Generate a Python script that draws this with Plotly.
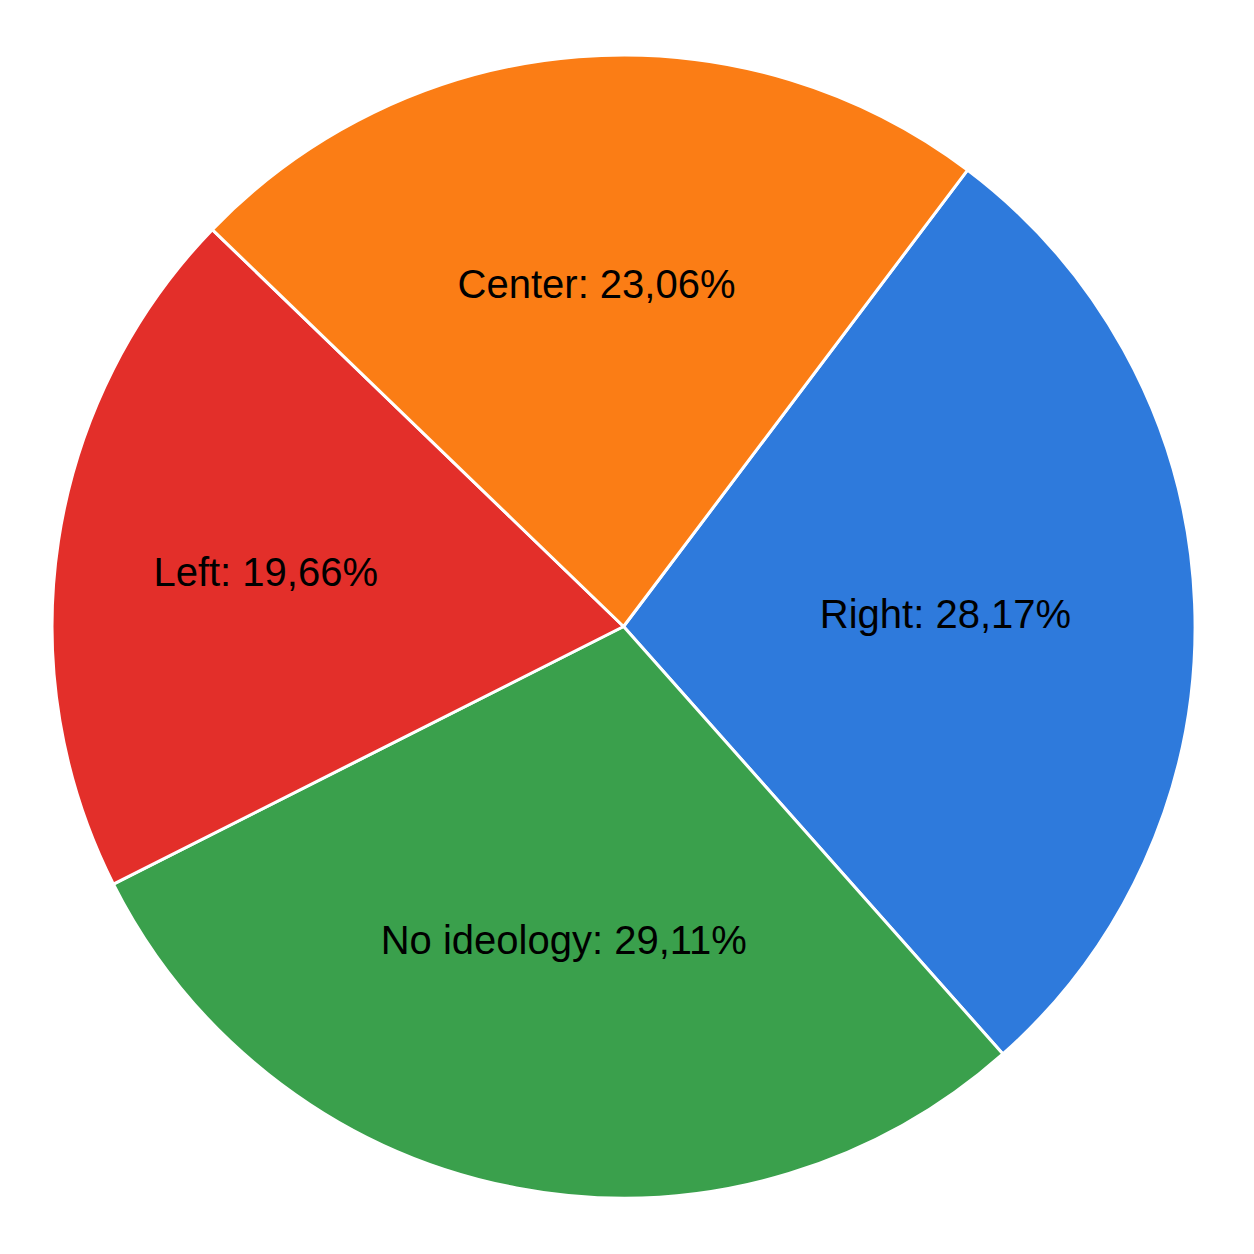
import plotly.graph_objects as go

labels = ["Right", "No ideology", "Left", "Center"]
values = [28.17, 29.11, 19.66, 23.06]
colors = ["#2E7ADC", "#3AA04C", "#E32F2A", "#FB7D15"]

fig = go.Figure(go.Pie(
    labels=labels,
    values=values,
    sort=False,
    direction="clockwise",
    rotation=37,
    marker=dict(colors=colors, line=dict(color="white", width=3)),
    texttemplate="%{label}: %{value:.2f}%",
    textposition="inside",
    insidetextorientation="horizontal",
    textfont=dict(family="Liberation Sans, Arial, sans-serif", size=40, color="black"),
    hoverinfo="label+value",
    domain=dict(x=[0.0415, 0.9530], y=[0.0407, 0.9601]),
    showlegend=False,
))

fig.update_layout(
    width=1254, height=1254,
    margin=dict(l=0, r=0, t=0, b=0),
    paper_bgcolor="white",
    separators=",.",
    showlegend=False,
)

fig.write_html("out.html")
